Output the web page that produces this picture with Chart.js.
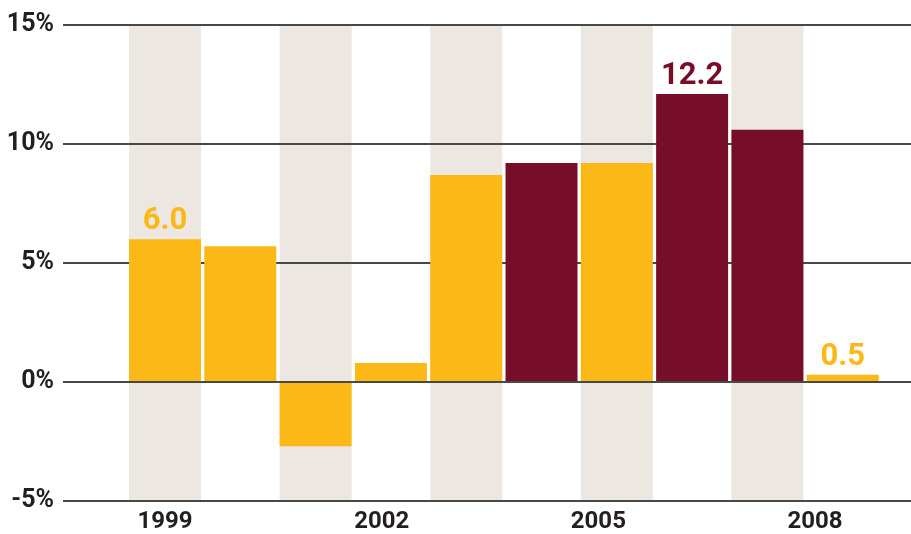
<!DOCTYPE html>
<html><head><meta charset="utf-8">
<script src="https://cdn.jsdelivr.net/npm/chart.js@4.4.1/dist/chart.umd.min.js"></script>
<style>html,body{margin:0;padding:0;background:#fff;}</style>
</head><body>
<canvas id="c" width="911" height="534"></canvas>
<script>
// ---- data ----
const years = [1999, 2000, 2001, 2002, 2003, 2004, 2005, 2006, 2007, 2008];
const growth = [6.0, 5.7, -2.7, 0.8, 8.7, 9.2, 9.2, 12.1, 10.6, 0.3];
const period = ['A', 'A', 'A', 'A', 'A', 'B', 'A', 'B', 'B', 'A'];
const valueLabels = ['6.0', '', '', '', '', '', '', '12.2', '', '0.5'];
const bandYears = [1999, 2001, 2003, 2005, 2007];
const yTicks = [-5, 0, 5, 10, 15];
const xTicks = [1999, 2002, 2005, 2008];

// ---- style ----
const YELLOW = '#FBB817';
const MAROON = '#760E2A';
const BAND = '#ECE7E1';
const LINE = '#484848';
const TEXT = '#231F20';
const FAMILY = '"Liberation Sans Narrow", "Roboto", sans-serif';

const yMin = Math.min(...yTicks), yMax = Math.max(...yTicks);

function hLine(chart, v) {
  const ctx = chart.ctx, a = chart.chartArea, y = Math.round(chart.scales.y.getPixelForValue(v));
  ctx.save();
  ctx.strokeStyle = LINE;
  ctx.lineWidth = 2;
  ctx.beginPath();
  ctx.moveTo(a.left, y);
  ctx.lineTo(a.right, y);
  ctx.stroke();
  ctx.restore();
}

const overlay = {
  id: 'overlay',
  afterDatasetDraw(chart, args) {
    if (args.index !== 0) return;
    yTicks.forEach(v => hLine(chart, v));
  },
  afterDatasetsDraw(chart) {
    hLine(chart, 0);
    const meta = chart.getDatasetMeta(1);
    const ctx = chart.ctx;
    ctx.save();
    ctx.font = 'bold 31px ' + FAMILY;
    ctx.textAlign = 'center';
    ctx.textBaseline = 'alphabetic';
    valueLabels.forEach((t, i) => {
      if (!t) return;
      const el = meta.data[i];
      ctx.fillStyle = period[i] === 'B' ? MAROON : YELLOW;
      ctx.fillText(t, el.x, Math.min(el.y, el.base) - 10);
    });
    ctx.restore();
  }
};

new Chart(document.getElementById('c'), {
  type: 'bar',
  data: {
    datasets: [
      {
        label: 'band',
        data: bandYears.map(y => ({ x: y, y: [yMin, yMax] })),
        backgroundColor: BAND,
        order: 2, grouped: false,
        categoryPercentage: 1, barPercentage: 0.956
      },
      {
        label: 'growth',
        data: years.map((y, i) => ({ x: y, y: growth[i] })),
        backgroundColor: years.map((y, i) => period[i] === 'B' ? MAROON : YELLOW),
        order: 1, grouped: false,
        categoryPercentage: 1, barPercentage: 0.956
      }
    ]
  },
  options: {
    responsive: false,
    animation: false,
    devicePixelRatio: 1,
    layout: { padding: { top: 25, left: 0, right: 0, bottom: 0 } },
    plugins: { legend: { display: false }, tooltip: { enabled: false } },
    scales: {
      x: {
        type: 'linear',
        offset: false,
        display: false,
        min: 1997.645, max: 2008.907
      },
      xLabels: {
        type: 'linear',
        position: 'bottom',
        offset: false,
        min: 1997.587, max: 2009.329,
        grid: { display: false, drawTicks: false },
        border: { display: false },
        afterBuildTicks: s => { s.ticks = xTicks.map(v => ({ value: v })); },
        afterFit: s => { s.height = 33; },
        ticks: {
          autoSkip: false, maxRotation: 0, padding: 7,
          color: TEXT,
          font: { family: FAMILY, size: 24, weight: 'bold' },
          callback: v => String(v)
        }
      },
      y: {
        min: yMin, max: yMax,
        grid: { display: false, drawTicks: false },
        border: { display: false },
        afterBuildTicks: s => { s.ticks = yTicks.map(v => ({ value: v })); },
        afterFit: s => { s.width = 63; },
        ticks: {
          padding: 9,
          color: TEXT,
          font: { family: FAMILY, size: 25, weight: 'bold' },
          callback: v => v + '%'
        }
      }
    }
  },
  plugins: [overlay]
});
</script>
</body></html>
